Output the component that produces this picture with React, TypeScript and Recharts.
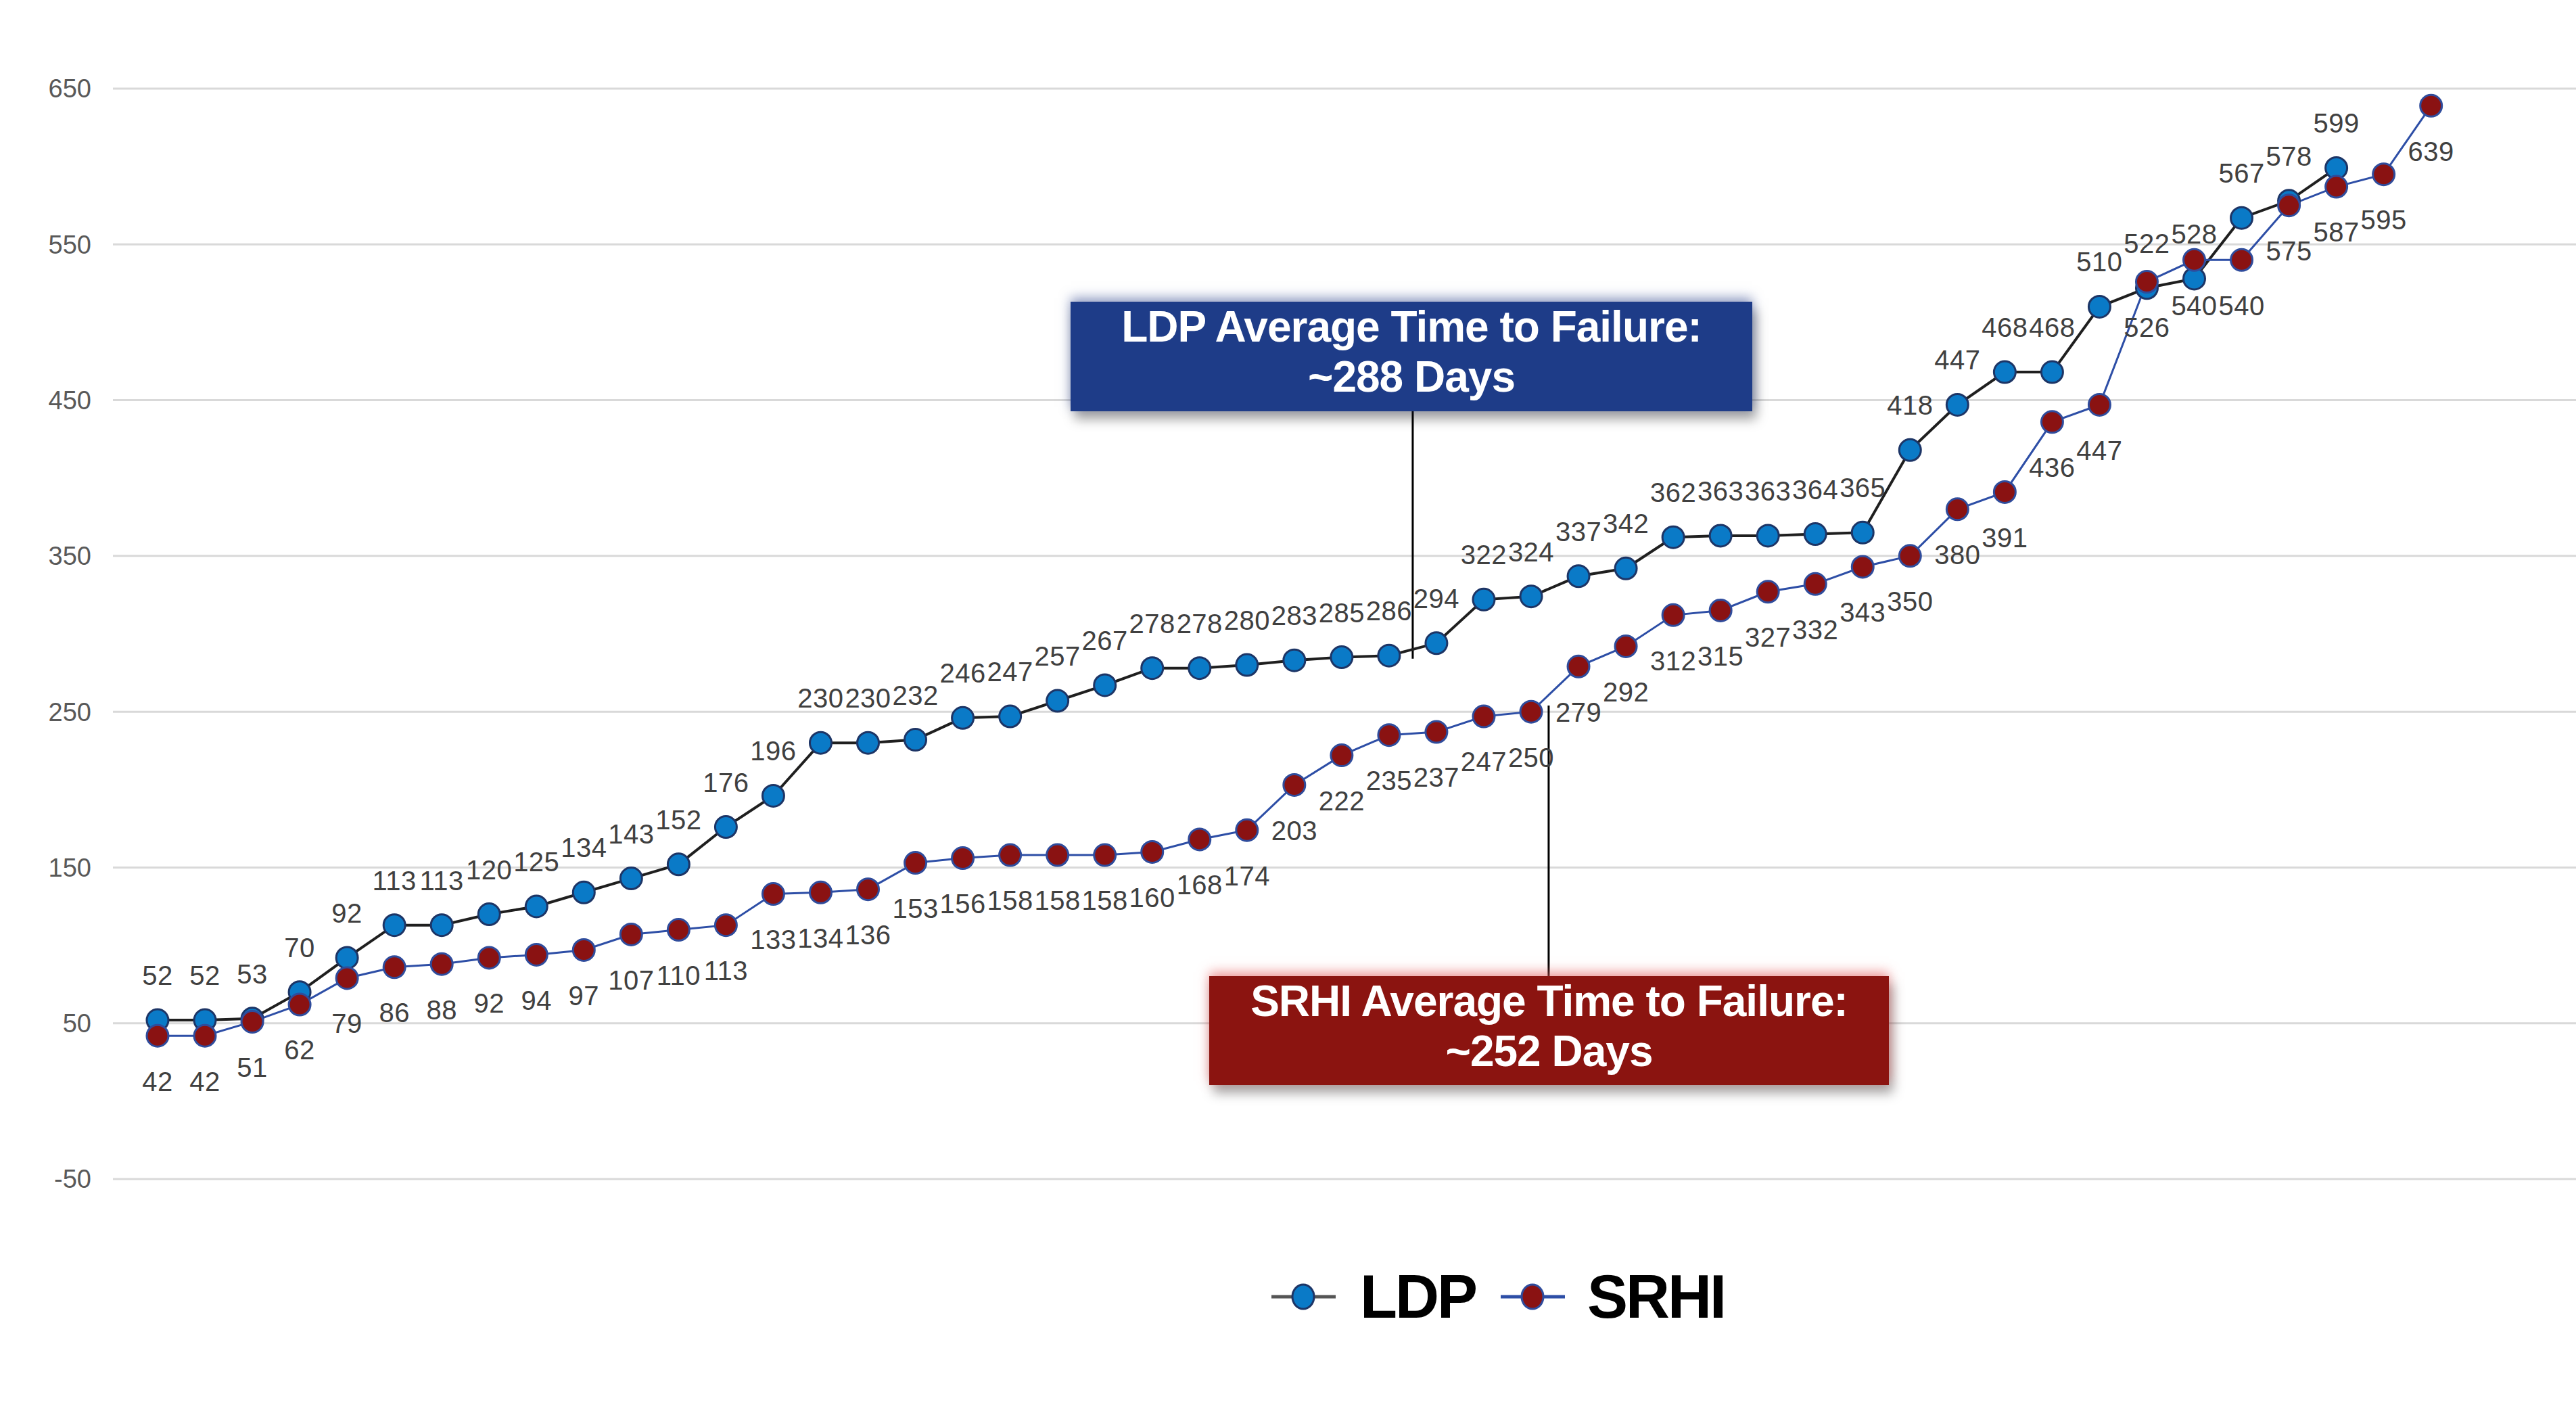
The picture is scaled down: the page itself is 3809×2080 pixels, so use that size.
import { CartesianGrid, LabelList, Line, LineChart, ReferenceLine, XAxis, YAxis } from "recharts";

// Days to failure, sorted ascending, one point per unit
const ldpDays = [
	52, 52, 53, 70, 92, 113, 113, 120, 125, 134, 143, 152, 176, 196, 230, 230, 232, 246, 247, 257, 267, 278,
	278, 280, 283, 285, 286, 294, 322, 324, 337, 342, 362, 363, 363, 364, 365, 418, 447, 468, 468, 510, 522,
	528, 567, 578, 599,
];
const srhiDays = [
	42, 42, 51, 62, 79, 86, 88, 92, 94, 97, 107, 110, 113, 133, 134, 136, 153, 156, 158, 158, 158, 160, 168,
	174, 203, 222, 235, 237, 247, 250, 279, 292, 312, 315, 327, 332, 343, 350, 380, 391, 436, 447, 526, 540,
	540, 575, 587, 595, 639,
];
const yTicks = [-50, 50, 150, 250, 350, 450, 550, 650];

// callout connectors, in data units (unit index, days)
const ldpConnector = { x: 26.5, from: 284, to: 443 };
const srhiConnector = { x: 29.37, from: 254, to: 80 };

const chartData = srhiDays.map((v, i) => ({
	unit: i,
	ldp: i < ldpDays.length ? ldpDays[i] : null,
	srhi: v,
}));

const FONT = '"Liberation Sans", Arial, sans-serif';
const W = 3809;
const H = 2080;

const colors = {
	ldpLine: "#1f1f1f",
	ldpFill: "#0a7ac7",
	ldpBorder: "#1d3566",
	srhiLine: "#2d4ea6",
	srhiFill: "#8a1212",
	srhiBorder: "#2f4c9c",
	label: "#404040",
	tick: "#595959",
	grid: "#d9d9d9",
};

function LegendIcon({ line, fill, border }: { line: string; fill: string; border: string }) {
	return (
		<svg width={95} height={40} style={{ display: "block" }}>
			<line x1={0} y1={20} x2={95} y2={20} stroke={line} strokeWidth={5} />
			<ellipse cx={47} cy={20} rx={16} ry={18} fill={fill} stroke={border} strokeWidth={3} />
		</svg>
	);
}

export default function App() {
	const boxText = {
		color: "#fff",
		fontFamily: FONT,
		fontWeight: 700,
		fontSize: 64,
		lineHeight: "74px",
		textAlign: "center" as const,
		display: "flex",
		flexDirection: "column" as const,
		justifyContent: "center",
		alignItems: "center",
		paddingBottom: 14,
		boxSizing: "border-box" as const,
		letterSpacing: -1,
	};

	return (
		<div
			style={{
				position: "absolute",
				left: 0,
				top: 0,
				width: W,
				height: H,
				background: "#fff",
				overflow: "hidden",
				fontFamily: FONT,
			}}
		>
			<LineChart width={W} height={H} data={chartData} margin={{ top: 131, right: 0, bottom: 337, left: 0 }}>
				<CartesianGrid vertical={false} stroke={colors.grid} strokeWidth={3} />
				<XAxis type="number" dataKey="unit" domain={[-0.942, 51.06]} hide />
				<YAxis
					width={167}
					domain={[-50, 650]}
					ticks={yTicks}
					axisLine={false}
					tickLine={false}
					tickSize={0}
					tickMargin={32}
					tick={{ fill: colors.tick, fontSize: 38, fontFamily: FONT }}
				/>
				<ReferenceLine
					segment={[
						{ x: ldpConnector.x, y: ldpConnector.from },
						{ x: ldpConnector.x, y: ldpConnector.to },
					]}
					stroke="#000"
					strokeWidth={3}
					ifOverflow="visible"
				/>
				<ReferenceLine
					segment={[
						{ x: srhiConnector.x, y: srhiConnector.from },
						{ x: srhiConnector.x, y: srhiConnector.to },
					]}
					stroke="#000"
					strokeWidth={3}
					ifOverflow="visible"
				/>
				<Line
					dataKey="ldp"
					name="LDP"
					stroke={colors.ldpLine}
					strokeWidth={4}
					dot={{ r: 16, fill: colors.ldpFill, stroke: colors.ldpBorder, strokeWidth: 3 }}
					isAnimationActive={false}
					connectNulls={false}
				>
					<LabelList
						dataKey="ldp"
						position="top"
						offset={52}
						fill={colors.label}
						fontSize={40}
						fontFamily={FONT}
						letterSpacing={0.5}
					/>
				</Line>
				<Line
					dataKey="srhi"
					name="SRHI"
					stroke={colors.srhiLine}
					strokeWidth={3}
					dot={{ r: 16, fill: colors.srhiFill, stroke: colors.srhiBorder, strokeWidth: 3 }}
					isAnimationActive={false}
				>
					<LabelList
						dataKey="srhi"
						position="bottom"
						offset={53}
						fill={colors.label}
						fontSize={40}
						fontFamily={FONT}
						letterSpacing={0.5}
					/>
				</Line>
			</LineChart>

			{/* callout boxes */}
			<div
				style={{
					...boxText,
					position: "absolute",
					left: 1583,
					top: 446,
					width: 1008,
					height: 162,
					background: "#1e3c88",
					boxShadow: "0 -6px 16px rgba(60,80,150,0.55), 6px 12px 16px rgba(0,0,0,0.35)",
				}}
			>
				<div>LDP Average Time to Failure:</div>
				<div>~288 Days</div>
			</div>
			<div
				style={{
					...boxText,
					position: "absolute",
					left: 1788,
					top: 1443,
					width: 1005,
					height: 161,
					background: "#8b1410",
					boxShadow: "0 -6px 16px rgba(230,90,90,0.6), 6px 12px 16px rgba(0,0,0,0.35)",
				}}
			>
				<div>SRHI Average Time to Failure:</div>
				<div>~252 Days</div>
			</div>

			{/* legend */}
			<div
				style={{
					position: "absolute",
					left: 1880,
					top: 1867,
					height: 100,
					display: "flex",
					alignItems: "center",
					fontFamily: FONT,
					fontWeight: 700,
					fontSize: 90,
					color: "#000",
				}}
			>
				<LegendIcon line="#555" fill={colors.ldpFill} border={colors.ldpBorder} />
				<span style={{ marginLeft: 36, marginRight: 37, letterSpacing: -3 }}>LDP</span>
				<LegendIcon line={colors.srhiLine} fill={colors.srhiFill} border={colors.srhiBorder} />
				<span style={{ marginLeft: 33, letterSpacing: -3 }}>SRHI</span>
			</div>
		</div>
	);
}
